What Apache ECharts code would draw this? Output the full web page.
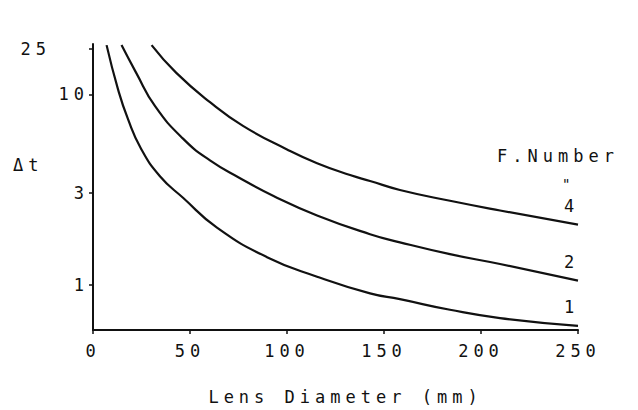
<!DOCTYPE html>
<html>
<head>
<meta charset="utf-8">
<script src="https://cdn.jsdelivr.net/npm/echarts@6/dist/echarts.min.js"></script>
<style>
  html, body { margin: 0; padding: 0; background: #fff; }
  #chart { width: 638px; height: 410px; }
  /* the original is typed with wide letter spacing */
  #chart text { letter-spacing: 5px; }
</style>
</head>
<body>
<div id="chart"></div>
<script>
// lens diameter (mm) and delta t, one pair of arrays per F number
const dF1 = [7, 12.9, 18.0, 24.7, 34.5, 46.4, 63.9, 89.7, 115.5, 142.8, 158.2, 184, 209.8, 250];
const tF1 = [27, 11.05, 7.4, 5.16, 3.68, 2.83, 1.98, 1.39, 1.10, 0.90, 0.84, 0.74, 0.67, 0.61];
const dF2 = [14.7, 22.2, 32.0, 46.4, 60.3, 75.8, 92.8, 115.5, 142.8, 158.2, 184, 209.8, 250];
const tF2 = [27, 15.5, 8.65, 5.82, 4.46, 3.59, 2.90, 2.29, 1.83, 1.66, 1.44, 1.28, 1.05];
const dF4 = [30.2, 42.8, 60.3, 77.3, 100, 115.5, 132.5, 142.8, 158.2, 184, 209.8, 250];
const tF4 = [27, 15.5, 9.08, 6.80, 5.10, 4.31, 3.73, 3.47, 3.11, 2.73, 2.43, 2.05];
const fNumbers = ["1", "2", "4"];
const yTicks = [1, 3, 10, 25];

// the printed delta t axis is not a clean log scale: ticks 1, 3, 10 are evenly
// spaced and 25 sits half a step above 10. knotPos = axis position of each tick
const knotPos = [0, 93, 193, 239];
function toPos(v) {
  const l = Math.log(v);
  if (v <= yTicks[0]) {
    return knotPos[0] + (l - Math.log(yTicks[0])) / (Math.log(yTicks[1]) - Math.log(yTicks[0])) * (knotPos[1] - knotPos[0]);
  }
  for (let i = 0; i < yTicks.length - 1; i++) {
    const a = Math.log(yTicks[i]), b = Math.log(yTicks[i + 1]);
    if (l <= b || i === yTicks.length - 2) {
      return knotPos[i] + (l - a) / (b - a) * (knotPos[i + 1] - knotPos[i]);
    }
  }
}
function pairs(xs, ys) {
  return xs.map((x, i) => [x, toPos(ys[i])]);
}

const font = "DejaVu Sans Mono";
const ink = "#111";
const chart = echarts.init(document.getElementById("chart"), null, { renderer: "svg" });

function curve(name, xs, ys) {
  return {
    name: name,
    type: "line",
    smooth: 0.5,
    symbol: "none",
    clip: true,
    lineStyle: { color: ink, width: 2.2 },
    data: pairs(xs, ys),
    endLabel: {
      show: true,
      formatter: "{a}",
      offset: [-22, -19],
      color: ink,
      fontFamily: font,
      fontSize: 17,
    },
  };
}

const option = {
  animation: false,
  backgroundColor: "#fff",
  grid: { left: 93, right: 60, top: 44, bottom: 77 },
  xAxis: {
    type: "value",
    min: 0,
    max: 250,
    interval: 50,
    name: "Lens Diameter (mm)",
    nameLocation: "middle",
    nameGap: 58,
    nameTextStyle: { color: ink, fontFamily: font, fontSize: 17, padding: [0, 0, 0, 20] },
    axisLine: { onZero: false, lineStyle: { color: ink, width: 2 } },
    axisTick: { length: 4, lineStyle: { color: ink, width: 1.5 } },
    axisLabel: { color: ink, fontFamily: font, fontSize: 17, margin: 12 },
    splitLine: { show: false },
  },
  yAxis: {
    type: "value",
    min: -46,
    max: 244,
    axisLine: { show: true, onZero: false, lineStyle: { color: ink, width: 2 } },
    axisTick: {
      show: true,
      length: 4,
      customValues: knotPos,
      lineStyle: { color: ink, width: 1.5 },
    },
    axisLabel: {
      color: ink,
      fontFamily: font,
      fontSize: 17,
      margin: 4,
      customValues: knotPos,
      formatter: function (val) {
        const i = knotPos.indexOf(val);
        if (i === yTicks.length - 1) return "{far|" + yTicks[i] + "}";
        return i >= 0 ? String(yTicks[i]) : "";
      },
      rich: {
        far: { fontFamily: font, fontSize: 17, color: ink, padding: [0, 38, 0, 0] },
      },
    },
    splitLine: { show: false },
  },
  graphic: [
    { type: "text", left: 13, top: 156, style: { text: "Δt", fill: ink, font: "17px " + font } },
    { type: "text", left: 497, top: 147, style: { text: "F.Number", fill: ink, font: "17px " + font } },
    { type: "text", left: 562, top: 177, style: { text: '"', fill: ink, font: "14px " + font } },
  ],
  series: [
    curve(fNumbers[0], dF1, tF1),
    curve(fNumbers[1], dF2, tF2),
    curve(fNumbers[2], dF4, tF4),
  ],
};

chart.setOption(option);
</script>
</body>
</html>
